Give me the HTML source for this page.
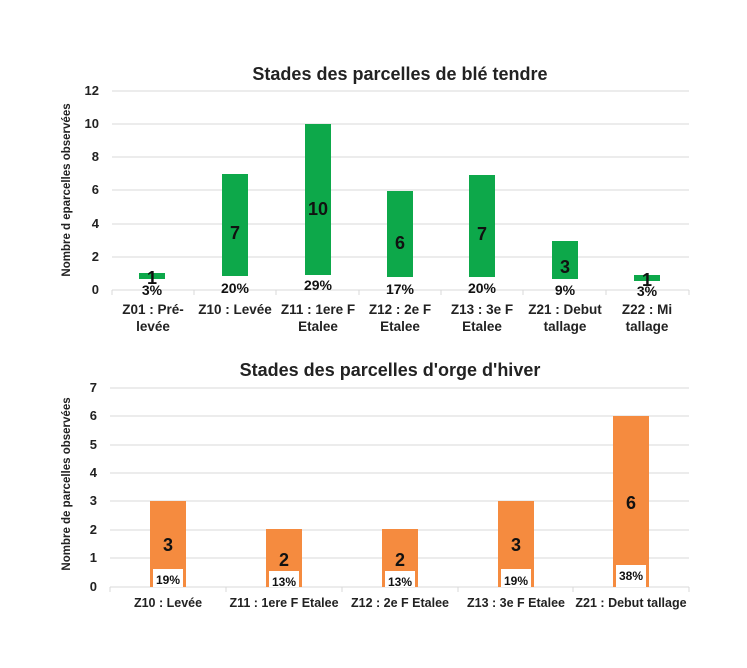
<!DOCTYPE html>
<html><head><meta charset="utf-8"><style>body{margin:0;background:#fff}svg{display:block}text{font-family:"Liberation Sans",sans-serif;font-weight:bold}</style></head>
<body>
<svg width="747" height="668" viewBox="0 0 747 668" xmlns="http://www.w3.org/2000/svg">
<rect width="747" height="668" fill="#fff"/>
<text x="400" y="80" font-size="18" text-anchor="middle" fill="#222">Stades des parcelles de blé tendre</text>
<g stroke="#d9d9d9" stroke-width="1">
<line x1="112" y1="91" x2="689" y2="91"/><line x1="112" y1="124" x2="689" y2="124"/><line x1="112" y1="157" x2="689" y2="157"/><line x1="112" y1="190" x2="689" y2="190"/><line x1="112" y1="224" x2="689" y2="224"/><line x1="112" y1="257" x2="689" y2="257"/><line x1="112" y1="290" x2="689" y2="290"/>
<line x1="194" y1="290" x2="194" y2="295"/><line x1="276" y1="290" x2="276" y2="295"/><line x1="359" y1="290" x2="359" y2="295"/><line x1="441" y1="290" x2="441" y2="295"/><line x1="523" y1="290" x2="523" y2="295"/><line x1="606" y1="290" x2="606" y2="295"/><line x1="112" y1="290" x2="112" y2="295"/><line x1="689" y1="290" x2="689" y2="295"/>
</g>
<g font-size="13" text-anchor="end" fill="#222">
<text x="99" y="95">12</text><text x="99" y="128">10</text><text x="99" y="161">8</text><text x="99" y="194">6</text><text x="99" y="228">4</text><text x="99" y="261">2</text><text x="99" y="294">0</text>
</g>
<text transform="translate(70,190) rotate(-90)" font-size="11.5" text-anchor="middle" fill="#222">Nombre d eparcelles  observées</text>
<g fill="#0da84a">
<rect x="139" y="273" width="26" height="6"/>
<rect x="222" y="174" width="26" height="102"/>
<rect x="305" y="124" width="26" height="151"/>
<rect x="387" y="191" width="26" height="86"/>
<rect x="469" y="175" width="26" height="102"/>
<rect x="552" y="241" width="26" height="38"/>
<rect x="634" y="275" width="26" height="6"/>
</g>
<g font-size="18" text-anchor="middle" fill="#111">
<text x="152" y="284">1</text><text x="235" y="239">7</text><text x="318" y="215">10</text><text x="400" y="249">6</text><text x="482" y="240">7</text><text x="565" y="273">3</text><text x="647" y="286">1</text>
</g>
<g font-size="14" text-anchor="middle" fill="#111">
<text x="152" y="295">3%</text><text x="235" y="293">20%</text><text x="318" y="290">29%</text><text x="400" y="294">17%</text><text x="482" y="293">20%</text><text x="565" y="295">9%</text><text x="647" y="296">3%</text>
</g>
<g font-size="13.5" text-anchor="middle" fill="#222">
<text x="153" y="314">Z01 : Pré-</text><text x="153" y="331">levée</text>
<text x="235" y="314">Z10 : Levée</text>
<text x="318" y="314">Z11 : 1ere F</text><text x="318" y="331">Etalee</text>
<text x="400" y="314">Z12 : 2e F</text><text x="400" y="331">Etalee</text>
<text x="482" y="314">Z13 : 3e F</text><text x="482" y="331">Etalee</text>
<text x="565" y="314">Z21 : Debut</text><text x="565" y="331">tallage</text>
<text x="647" y="314">Z22 : Mi</text><text x="647" y="331">tallage</text>
</g>
<text x="390" y="376" font-size="18" text-anchor="middle" fill="#222">Stades des parcelles d'orge d'hiver</text>
<g stroke="#d9d9d9" stroke-width="1">
<line x1="110" y1="388" x2="689" y2="388"/><line x1="110" y1="416" x2="689" y2="416"/><line x1="110" y1="445" x2="689" y2="445"/><line x1="110" y1="473" x2="689" y2="473"/><line x1="110" y1="501" x2="689" y2="501"/><line x1="110" y1="530" x2="689" y2="530"/><line x1="110" y1="558" x2="689" y2="558"/><line x1="110" y1="587" x2="689" y2="587"/>
<line x1="110" y1="587" x2="110" y2="592"/><line x1="226" y1="587" x2="226" y2="592"/><line x1="342" y1="587" x2="342" y2="592"/><line x1="458" y1="587" x2="458" y2="592"/><line x1="573" y1="587" x2="573" y2="592"/><line x1="689" y1="587" x2="689" y2="592"/>
</g>
<g font-size="13" text-anchor="end" fill="#222">
<text x="97" y="392">7</text><text x="97" y="420">6</text><text x="97" y="449">5</text><text x="97" y="477">4</text><text x="97" y="505">3</text><text x="97" y="534">2</text><text x="97" y="562">1</text><text x="97" y="591">0</text>
</g>
<text transform="translate(70,484) rotate(-90)" font-size="11.5" text-anchor="middle" fill="#222">Nombre de parcelles  observées</text>
<g fill="#f58b3f">
<rect x="150" y="501" width="36" height="86"/>
<rect x="266" y="529" width="36" height="58"/>
<rect x="382" y="529" width="36" height="58"/>
<rect x="498" y="501" width="36" height="86"/>
<rect x="613" y="416" width="36" height="171"/>
</g>
<g fill="#fff">
<rect x="153" y="569" width="30" height="18"/>
<rect x="269" y="571" width="30" height="16"/>
<rect x="385" y="571" width="30" height="16"/>
<rect x="501" y="569" width="30" height="18"/>
<rect x="616" y="565" width="30" height="22"/>
</g>
<g font-size="18" text-anchor="middle" fill="#111">
<text x="168" y="551">3</text><text x="284" y="566">2</text><text x="400" y="566">2</text><text x="516" y="551">3</text><text x="631" y="509">6</text>
</g>
<g font-size="12" text-anchor="middle" fill="#111">
<text x="168" y="584">19%</text><text x="284" y="586">13%</text><text x="400" y="586">13%</text><text x="516" y="585">19%</text><text x="631" y="580">38%</text>
</g>
<g font-size="12.5" text-anchor="middle" fill="#222">
<text x="168" y="607">Z10 : Levée</text><text x="284" y="607">Z11 : 1ere F Etalee</text><text x="400" y="607">Z12 : 2e F Etalee</text><text x="516" y="607">Z13 : 3e F Etalee</text><text x="631" y="607">Z21 : Debut tallage</text>
</g>
</svg>
</body></html>
